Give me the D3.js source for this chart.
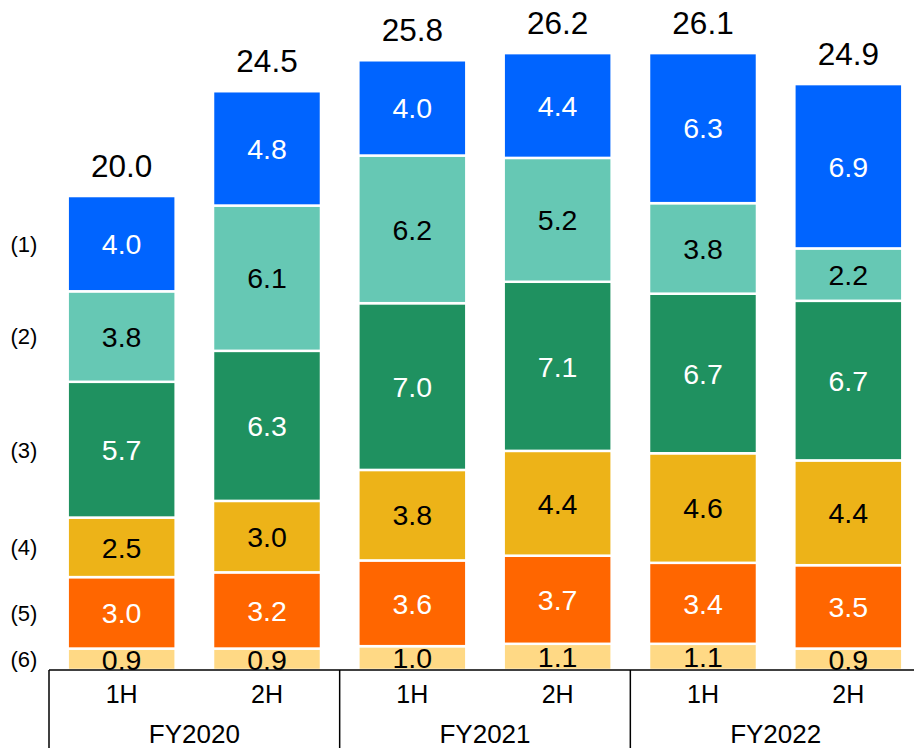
<!DOCTYPE html>
<html>
<head>
<meta charset="utf-8">
<script src="https://cdn.jsdelivr.net/npm/d3@7"></script>
<style>
  html, body { margin: 0; padding: 0; background: #fff; }
  svg { display: block; font-family: "Liberation Sans", Arial, sans-serif; }
</style>
</head>
<body>
<svg id="chart" width="914" height="748"></svg>
<script>
// ---- data ----
const halves = ["1H", "2H", "1H", "2H", "1H", "2H"];
const years = ["FY2020", "FY2021", "FY2022"];
const seriesNames = ["(1)", "(2)", "(3)", "(4)", "(5)", "(6)"];
const s1 = [4.0, 4.8, 4.0, 4.4, 6.3, 6.9];
const s2 = [3.8, 6.1, 6.2, 5.2, 3.8, 2.2];
const s3 = [5.7, 6.3, 7.0, 7.1, 6.7, 6.7];
const s4 = [2.5, 3.0, 3.8, 4.4, 4.6, 4.4];
const s5 = [3.0, 3.2, 3.6, 3.7, 3.4, 3.5];
const s6 = [0.9, 0.9, 1.0, 1.1, 1.1, 0.9];
const totals = [20.0, 24.5, 25.8, 26.2, 26.1, 24.9];

// ---- styles ----
const colors = ["#0064FF", "#66C8B4", "#1F9160", "#EDB318", "#FF6600", "#FFD985"];
const textColors = ["#fff", "#000", "#fff", "#000", "#fff", "#000"];

const svg = d3.select("#chart");
const ids = d3.range(halves.length);

// stack order from bottom: (6),(5),(4),(3),(2),(1)
const seriesArr = [s1, s2, s3, s4, s5, s6];
const stackKeys = [5, 4, 3, 2, 1, 0];
const rows = ids.map(i => {
  const r = { i };
  seriesArr.forEach((s, k) => r[k] = s[i]);
  return r;
});
const stacked = d3.stack().keys(stackKeys)(rows);

const x = d3.scaleBand().domain(ids).range([49, 921])
  .paddingInner(0.257).paddingOuter(0.1285);
const y = d3.scaleLinear().domain([0, 28.13]).range([670, 0]);

const step = x.step();
const gap = (step - x.bandwidth()) / 2;

// bars
const layers = svg.append("g").selectAll("g").data(stacked).join("g")
  .attr("fill", d => colors[d.key]);
layers.selectAll("rect").data(d => d.map(v => ({ v, key: d.key }))).join("rect")
  .attr("x", d => x(d.v.data.i))
  .attr("width", x.bandwidth())
  .attr("y", d => y(d.v[1]))
  .attr("height", d => y(d.v[0]) - y(d.v[1]))
  .attr("stroke", "#fff")
  .attr("stroke-width", 2.5);

// segment labels
layers.selectAll("text").data(d => d.map(v => ({ v, key: d.key }))).join("text")
  .attr("x", d => x(d.v.data.i) + x.bandwidth() / 2)
  .attr("y", d => (y(d.v[0]) + y(d.v[1])) / 2)
  .attr("dy", "0.36em")
  .attr("text-anchor", "middle")
  .attr("font-size", 28.5)
  .attr("fill", d => textColors[d.key])
  .text(d => seriesArr[d.key][d.v.data.i].toFixed(1));

// totals
svg.append("g").selectAll("text").data(ids).join("text")
  .attr("x", i => x(i) + x.bandwidth() / 2)
  .attr("y", i => y(d3.sum(seriesArr, s => s[i])) - 19)
  .attr("text-anchor", "middle")
  .attr("font-size", 31.5)
  .attr("fill", "#000")
  .text(i => totals[i].toFixed(1));

// left series labels aligned with first bar segments
const firstStack = stacked.map(layer => ({ key: layer.key, v: layer[0] }));
svg.append("g").selectAll("text").data(firstStack).join("text")
  .attr("x", 24)
  .attr("y", d => (y(d.v[0]) + y(d.v[1])) / 2)
  .attr("dy", "0.36em")
  .attr("text-anchor", "middle")
  .attr("font-size", 22)
  .attr("fill", "#000")
  .text(d => seriesNames[d.key]);

// category axis box
const axisG = svg.append("g");
const x0 = y(0);
axisG.append("line")
  .attr("x1", x(0) - gap).attr("x2", 914)
  .attr("y1", x0).attr("y2", x0)
  .attr("stroke", "#000").attr("stroke-width", 1.5);
years.forEach((yr, g) => {
  const left = x(g * 2) - gap;
  axisG.append("line")
    .attr("x1", left).attr("x2", left)
    .attr("y1", x0).attr("y2", 748)
    .attr("stroke", "#000").attr("stroke-width", 1.5);
  axisG.append("text")
    .attr("x", left + step)
    .attr("y", 743)
    .attr("text-anchor", "middle")
    .attr("font-size", 26)
    .text(yr);
});
axisG.selectAll("text.half").data(ids).join("text")
  .attr("class", "half")
  .attr("x", i => x(i) + x.bandwidth() / 2)
  .attr("y", 703)
  .attr("text-anchor", "middle")
  .attr("font-size", 25)
  .text(i => halves[i]);
</script>
</body>
</html>
